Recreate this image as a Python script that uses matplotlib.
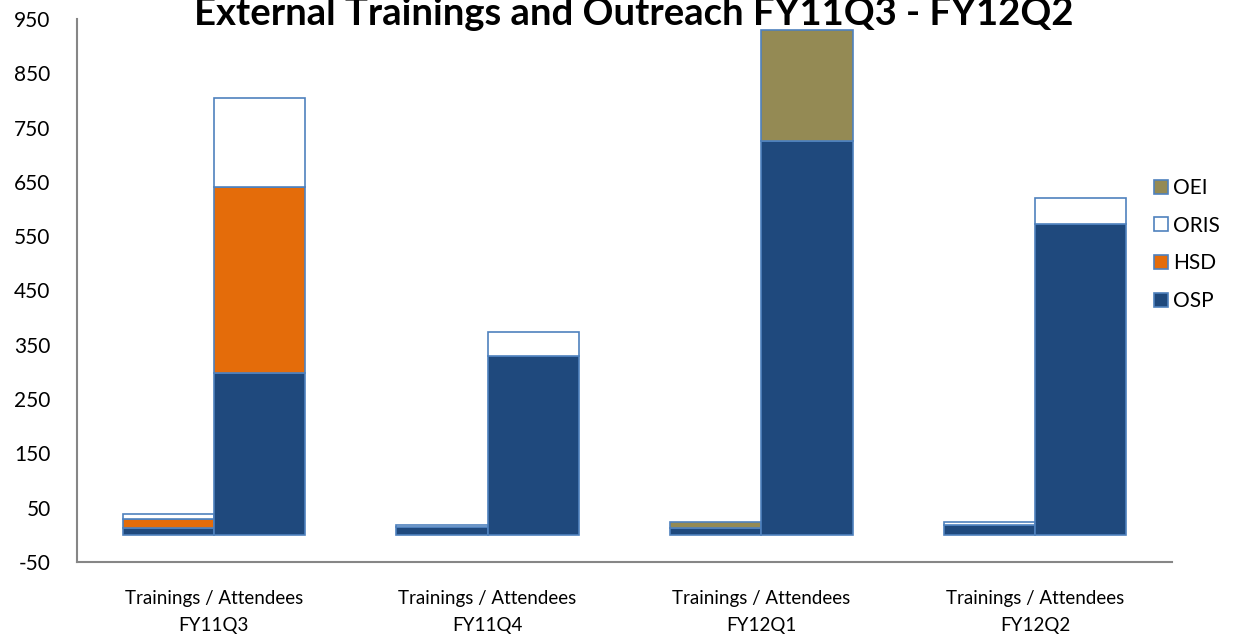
import matplotlib
matplotlib.use("Agg")
import matplotlib.pyplot as plt
import numpy as np
from matplotlib.patches import Patch

categories = ["FY11Q3", "FY11Q4", "FY12Q1", "FY12Q2"]
series_names = ["OSP", "HSD", "ORIS", "OEI"]
# Trainings (left bar of each group)
osp_trainings = [12, 15, 12, 19]
hsd_trainings = [17, 0, 0, 0]
oris_trainings = [9, 4, 0, 5]
oei_trainings = [0, 0, 12, 0]
# Attendees (right bar of each group)
osp_attendees = [298, 330, 726, 573]
hsd_attendees = [343, 0, 0, 0]
oris_attendees = [163, 44, 0, 47]
oei_attendees = [0, 0, 204, 0]
y_ticks = [-50, 50, 150, 250, 350, 450, 550, 650, 750, 850, 950]

colors = {"OSP": "#1F497D", "HSD": "#E46C0A", "ORIS": "#FFFFFF", "OEI": "#948A54"}
edge = "#4F81BD"

plt.rcParams["font.family"] = ["Lato", "DejaVu Sans"]

fig = plt.figure(figsize=(12.33, 6.42), dpi=100)
W, H = 1233, 642
ax = fig.add_axes([77 / W, 1 - 562 / H, (1172 - 77) / W, (562 - 19) / H])

x = np.arange(len(categories))
bw = 1 / 3
trainings = {"OSP": osp_trainings, "HSD": hsd_trainings, "ORIS": oris_trainings, "OEI": oei_trainings}
attendees = {"OSP": osp_attendees, "HSD": hsd_attendees, "ORIS": oris_attendees, "OEI": oei_attendees}

for data, off in ((trainings, -bw / 2), (attendees, bw / 2)):
    bottom = np.zeros(len(categories))
    for name in series_names:
        vals = np.array(data[name], dtype=float)
        mask = vals > 0
        ax.bar(x[mask] + off, vals[mask], bw, bottom=bottom[mask],
               color=colors[name], edgecolor=edge, linewidth=1.2, zorder=2)
        bottom += vals

ax.set_xlim(-0.5, len(categories) - 0.5)
ax.set_ylim(-50, 950)
ax.set_yticks(y_ticks)
ax.set_yticklabels([str(v) for v in y_ticks], fontsize=15)
ax.set_xticks(x)
ax.set_xticklabels(["Trainings / Attendees\n" + c for c in categories], fontsize=13.5,
                   linespacing=1.75)
ax.tick_params(length=0)
ax.tick_params(axis="y", pad=19)
ax.tick_params(axis="x", pad=20)
for s in ("top", "right"):
    ax.spines[s].set_visible(False)
for s in ("left", "bottom"):
    ax.spines[s].set_color("#868686")
    ax.spines[s].set_linewidth(1.5)

fig.text(634 / W, 1 - 25 / H, "External Trainings and Outreach FY11Q3 - FY12Q2",
         ha="center", va="baseline", fontsize=27.5, fontweight="bold")

handles = [Patch(facecolor=colors[n], edgecolor=edge, linewidth=1.2) for n in ["OEI", "ORIS", "HSD", "OSP"]]
fig.legend(handles, ["OEI", "ORIS", "HSD", "OSP"], loc="upper left",
           bbox_to_anchor=(1154 / W, 1 - 178 / H), frameon=False, fontsize=15,
           handlelength=0.65, handleheight=0.65, handletextpad=0.25, labelspacing=0.85,
           borderaxespad=0, borderpad=0)

fig.savefig("out.png", dpi=100)
